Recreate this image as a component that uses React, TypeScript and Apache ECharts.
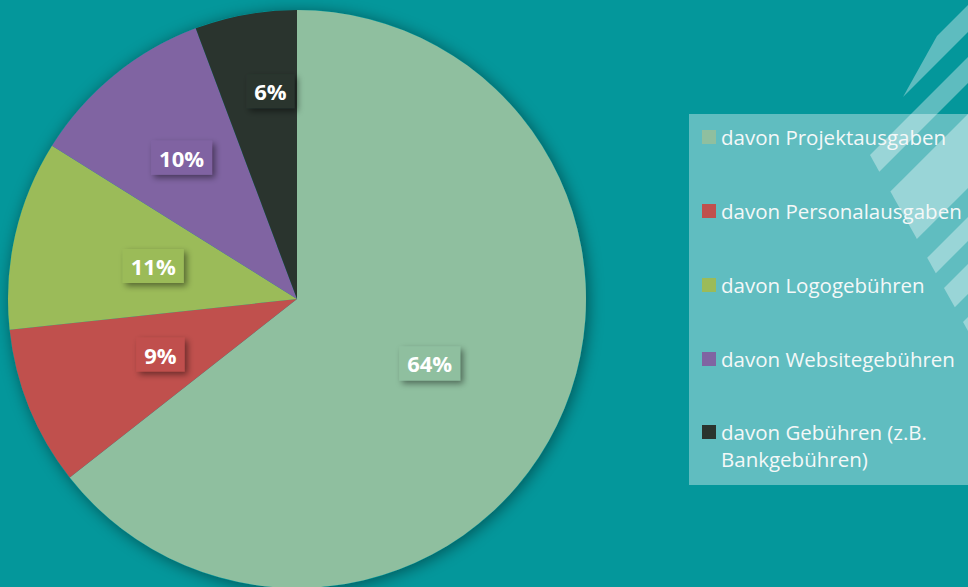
import React, { useEffect, useRef } from "react";
import * as echarts from "echarts";

const categories = [
  "davon Projektausgaben",
  "davon Personalausgaben",
  "davon Logogebühren",
  "davon Websitegebühren",
  "davon Gebühren (z.B.\nBankgebühren)",
];
const shares = [64.4, 8.9, 10.6, 10.4, 5.7];
const sliceColors = ["#8FBF9F", "#C0504D", "#9BBB59", "#8064A2", "#2A342E"];

// extra radial push / angular nudge of some data labels (layout only)
const labelPush = [0, 0, 0, 35, 62];
const labelNudgeDeg = [0, 0, 0, 0, 3];

const BG = "#04979B";

export default function App() {
  const ref = useRef<HTMLDivElement>(null);

  useEffect(() => {
    if (!ref.current) return;
    const chart = echarts.init(ref.current, null, { renderer: "svg" });

    const R = 289;
    const inner = R / 2;
    const total = shares.reduce((a, b) => a + b, 0);
    let acc = 0;
    const data = categories.map((name, i) => {
      const mid = ((acc + shares[i] / 2) / total) * 360;
      acc += shares[i];
      const rad = (mid * Math.PI) / 180;
      const rad2 = ((mid + labelNudgeDeg[i]) * Math.PI) / 180;
      const r2 = inner + labelPush[i];
      const ox = r2 * Math.sin(rad2) - inner * Math.sin(rad);
      const oy = -r2 * Math.cos(rad2) + inner * Math.cos(rad);
      return {
        name,
        value: shares[i],
        itemStyle: { color: sliceColors[i] },
        label: {
          backgroundColor: sliceColors[i],
          offset: [ox, oy],
        },
      };
    });

    const stripe = (pts: number[][]) => ({
      type: "polygon",
      silent: true,
      z: 1,
      shape: { points: pts },
      style: { fill: "rgba(255,255,255,0.36)" },
    });

    const legendText = {
      color: "#F4F8F8",
      fontFamily: "Open Sans",
      fontSize: 20.5,
      lineHeight: 27,
    };

    chart.setOption({
      animation: false,
      backgroundColor: BG,
      graphic: [
        {
          type: "rect",
          silent: true,
          z: 0,
          shape: { x: 689, y: 114, width: 290, height: 371 },
          style: { fill: "rgba(255,255,255,0.37)" },
        },
        stripe([[903, 97], [937, 36], [1037, -64], [1003, -3]]),
        stripe([[870, 155], [879.3, 171.7], [1079.3, -28.3], [1070, -45]]),
        stripe([[890.4, 191.6], [916.9, 239.1], [1116.9, 39.1], [1090.4, -8.4]]),
        stripe([[927.2, 257.8], [935.8, 273.2], [1135.8, 73.2], [1127.2, 57.8]]),
        stripe([[944.0, 288.0], [954.8, 307.2], [1154.8, 107.2], [1144.0, 88.0]]),
        stripe([[963.0, 322.0], [971.9, 338.0], [1171.9, 138.0], [1163.0, 122.0]]),
      ],
      legend: [
        {
          orient: "vertical",
          left: 702,
          top: 123.5,
          padding: 0,
          itemWidth: 14,
          itemHeight: 14,
          itemGap: 47,
          icon: "rect",
          selectedMode: false,
          data: categories.slice(0, 4),
          textStyle: legendText,
        },
        {
          orient: "vertical",
          left: 702,
          top: 391.5,
          padding: 0,
          itemWidth: 14,
          itemHeight: 14,
          icon: "rect",
          selectedMode: false,
          data: categories.slice(4),
          formatter: (name: string) => "\n" + name,
          textStyle: legendText,
        },
      ],
      series: [
        {
          type: "pie",
          name: "shadow",
          silent: true,
          z: 1,
          center: [297, 299],
          radius: R,
          label: { show: false },
          labelLine: { show: false },
          itemStyle: {
            color: "#04979B",
            shadowBlur: 16,
            shadowColor: "rgba(0,0,0,0.45)",
            shadowOffsetX: 2,
            shadowOffsetY: 2,
          },
          data: [{ name: "__bg", value: 1 }],
          emphasis: { disabled: true },
        },
        {
          type: "pie",
          z: 2,
          center: [297, 299],
          radius: R,
          startAngle: 90,
          clockwise: true,
          avoidLabelOverlap: false,
          emphasis: { disabled: true },
          labelLine: { show: false },
          itemStyle: { borderWidth: 0 },
          label: {
            show: true,
            position: "inside",
            formatter: (p: any) => Math.round(p.percent) + "%",
            color: "#FFFFFF",
            fontFamily: "Open Sans",
            fontWeight: "bold",
            fontSize: 22,
            lineHeight: 22,
            padding: [6, 8, 6, 8],
            shadowBlur: 6,
            shadowColor: "rgba(0,0,0,0.45)",
            shadowOffsetX: 3,
            shadowOffsetY: 3,
          },
          data,
        },
      ],
    });

    return () => chart.dispose();
  }, []);

  return (
    <div
      ref={ref}
      style={{
        position: "fixed",
        left: 0,
        top: 0,
        width: 968,
        height: 587,
        background: BG,
      }}
    />
  );
}
